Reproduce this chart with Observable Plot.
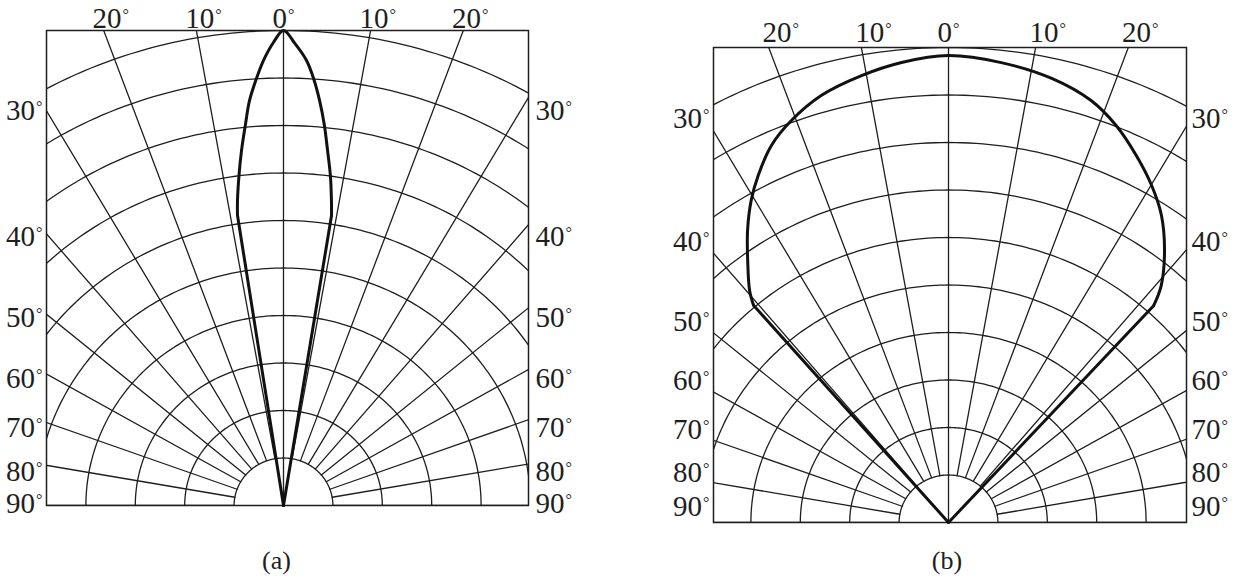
<!DOCTYPE html>
<html>
<head>
<meta charset="utf-8">
<script src="https://cdn.jsdelivr.net/npm/d3@7"></script>
<script src="https://cdn.jsdelivr.net/npm/@observablehq/plot@0.6"></script>
<style>
  body { margin: 0; background: #fff; }
  #wrap { display: flex; width: 1238px; height: 578px; overflow: hidden; }
  #wrap svg { display: block; }
</style>
</head>
<body>
<div id="wrap"></div>
<script>
// ---- grid (polar axes) ----
const ringRadii = [1, 2, 3, 4, 5, 6, 7, 8, 9, 10];
const spokeAngles = [-90, -80, -70, -60, -50, -40, -30, -20, -10, 0, 10, 20, 30, 40, 50, 60, 70, 80, 90];
const topTickAngles = [-20, -10, 10, 20];
const topTickLabels = ["20°", "10°", "10°", "20°"];
const centerTickLabel = "0°";
const sideTickAngles = [30, 40, 50, 60, 70, 80];
const sideTickLabels = ["30°", "40°", "50°", "60°", "70°", "80°"];
const baseTickLabel = "90°";
const panelLabels = ["(a)", "(b)"];

// ---- pattern (a): narrow lobe (angle in degrees, relative radius 0..10) ----
const anglesA = [-8.67, -8.25, -7.4, -6.49, -5.5, -4.62, -3.5, -2.47, -1.2, 0, 1.4, 2.85, 3.9, 4.89, 5.9, 6.8, 7.8, 8.6, 9.05];
const radiiA  = [6.18, 6.49, 7.0, 7.52, 8.05, 8.55, 9.0, 9.38, 9.75, 10, 9.72, 9.38, 9.0, 8.56, 8.05, 7.53, 7.0, 6.49, 6.18];

// ---- pattern (b): broad lobe ----
const anglesB = [-40.8, -39.5, -36.4, -33.5, -30.5, -27.8, -24.3, -20.6, -16.0, -10.6, -5.6, 0, 6.3, 12.6, 18.0, 22.1, 26.2, 30.1, 33.7, 37.4, 40.8, 42.3];
const radiiB  = [6.04, 6.33, 6.85, 7.37, 7.87, 8.26, 8.71, 9.04, 9.35, 9.57, 9.73, 9.83, 9.74, 9.58, 9.34, 9.02, 8.61, 8.2, 7.77, 7.2, 6.59, 6.17];

const rad = t => t * Math.PI / 180;
const polar = (t, r) => ({x: r * Math.sin(rad(t)), y: r * Math.cos(rad(t))});
const FONT = "'Liberation Serif', 'Times New Roman', serif";
const INK = "#1e1e1e";

function smallDegrees(svg) {
  svg.querySelectorAll("text").forEach(el => {
    const s = el.textContent;
    if (s.endsWith("°") && el.children.length === 0) {
      el.textContent = s.slice(0, -1);
      const t = document.createElementNS("http://www.w3.org/2000/svg", "tspan");
      t.setAttribute("font-size", "16");
      t.setAttribute("dy", "-8");
      t.setAttribute("dx", "1");
      t.textContent = "°";
      el.appendChild(t);
    }
  });
  return svg;
}

function panel(cfg) {
  const {angles, radii, xDomain, margins, caption, captionDx, captionDy, topDy, topDx, sideDy, baseDy, rightDx} = cfg;
  const ringPts = ringRadii.flatMap(r => d3.range(-90, 90.5, 1).map(t => ({z: r, ...polar(t, r)})));
  const spokePts = spokeAngles.flatMap(t => [t === 0 ? 0 : ringRadii[0], 20].map(r => ({z: t, ...polar(t, r)})));
  const curvePts = angles.map((t, i) => polar(t, radii[i]));
  const n = angles.length;
  const legPts = [
    {z: "L", ...polar(angles[0], 0)}, {z: "L", ...curvePts[0]},
    {z: "R", ...curvePts[n - 1]}, {z: "R", ...polar(angles[n - 1], 0)}
  ];
  const halfW = (Math.abs(xDomain[0]) + Math.abs(xDomain[1])) / 2;
  const sideY = t => halfW * Math.cos(rad(t)) / Math.sin(rad(t));
  const textOpts = {fontFamily: FONT, fontSize: 29, fill: INK};
  return smallDegrees(Plot.plot({
    width: 619,
    height: 578,
    ...margins,
    x: {domain: xDomain, axis: null},
    y: {domain: [0, 10], axis: null},
    marks: [
      Plot.line(ringPts, {x: "x", y: "y", z: "z", stroke: INK, strokeWidth: 1.3, clip: true}),
      Plot.line(spokePts, {x: "x", y: "y", z: "z", stroke: INK, strokeWidth: 1.3, clip: true}),
      Plot.frame({stroke: INK, strokeWidth: 1.5}),
      Plot.line(curvePts, {x: "x", y: "y", stroke: "#111", strokeWidth: 3, curve: "catmull-rom"}),
      Plot.line(legPts, {x: "x", y: "y", z: "z", stroke: "#111", strokeWidth: 3}),
      Plot.text(topTickAngles, {x: t => 10 * Math.tan(rad(t)), frameAnchor: "top", lineAnchor: "bottom", dy: topDy, dx: topDx,
        text: (t, i) => topTickLabels[i], ...textOpts}),
      Plot.text([centerTickLabel], {x: () => 0, frameAnchor: "top", lineAnchor: "bottom", dy: topDy, dx: 0, ...textOpts}),
      Plot.text(sideTickAngles, {y: sideY, frameAnchor: "left", textAnchor: "end",
        lineAnchor: "middle", dx: -4, dy: sideDy, text: (t, i) => sideTickLabels[i], ...textOpts}),
      Plot.text(sideTickAngles, {y: sideY, frameAnchor: "right", textAnchor: "start",
        lineAnchor: "middle", dx: rightDx, dy: sideDy, text: (t, i) => sideTickLabels[i], ...textOpts}),
      Plot.text([baseTickLabel], {frameAnchor: "bottom-left", textAnchor: "end", lineAnchor: "middle", dx: -4, dy: baseDy, ...textOpts}),
      Plot.text([baseTickLabel], {frameAnchor: "bottom-right", textAnchor: "start", lineAnchor: "middle", dx: rightDx, dy: baseDy, ...textOpts}),
      Plot.text([caption], {frameAnchor: "bottom", lineAnchor: "middle", dx: captionDx, dy: captionDy, ...textOpts, fontSize: 26})
    ]
  }));
}

const sx = 49.4; // px per ring unit horizontally (frame layout)
const wrap = document.getElementById("wrap");
wrap.append(panel({
  angles: anglesA, radii: radiiA,
  xDomain: [-(283 - 46) / sx, (528 - 283) / sx],
  margins: {marginLeft: 46, marginRight: 91, marginTop: 30, marginBottom: 73},
  caption: panelLabels[0], captionDx: -11, captionDy: 55,
  topDy: -3, topDx: 7, sideDy: 7, baseDy: -2, rightDx: 7
}));
wrap.append(panel({
  angles: anglesB, radii: radiiB,
  xDomain: [-(948 - 713) / sx, (1186 - 948) / sx],
  margins: {marginLeft: 94, marginRight: 52, marginTop: 47, marginBottom: 56},
  caption: panelLabels[1], captionDx: -3, captionDy: 38,
  topDy: -6, topDx: 12, sideDy: -10, baseDy: -16, rightDx: 5
}));
</script>
</body>
</html>
